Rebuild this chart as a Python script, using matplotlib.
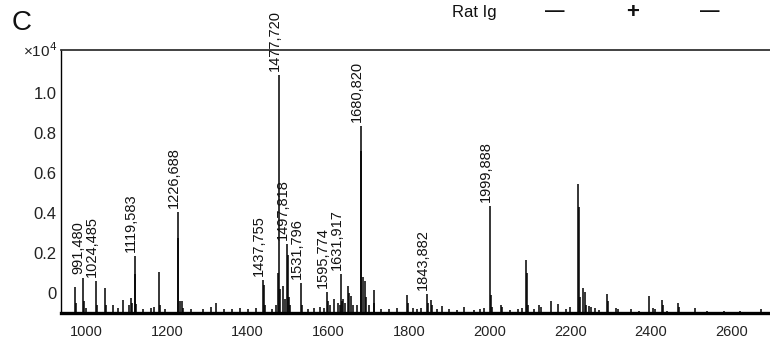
import matplotlib
matplotlib.use('Agg')
import matplotlib.pyplot as plt

plt.rcParams['font.family'] = ['Liberation Sans', 'DejaVu Sans']

# Peak list: m/z and intensity (x10^4, axis units)
peak_mz = [972, 975, 991.48, 994, 1000, 1024.485, 1027, 1045, 1048, 1065, 1078,
           1090, 1105, 1110, 1113, 1119.583, 1121, 1124, 1140, 1160, 1168, 1180, 1182, 1195,
           1226.688, 1228, 1231, 1236, 1240, 1260, 1290, 1310, 1322, 1340, 1360, 1380, 1400, 1420,
           1437.755, 1440, 1443, 1460, 1470, 1476, 1477.72, 1479, 1488, 1493, 1497.818, 1499, 1502, 1505,
           1531.796, 1534, 1550, 1565, 1580, 1590, 1595.774, 1598, 1605, 1615, 1625, 1628,
           1631.917, 1634, 1637, 1642, 1648, 1651, 1657, 1662, 1670,
           1680.82, 1682, 1686, 1690, 1693, 1700, 1712, 1714, 1730, 1750, 1770,
           1795, 1797, 1810, 1820, 1830, 1843.882, 1846, 1855, 1858, 1870, 1882, 1900, 1920, 1937,
           1960, 1975, 1985, 1999.888, 2002, 2005, 2027, 2030, 2050, 2070, 2080,
           2090, 2092, 2095, 2110, 2122, 2126, 2152, 2170, 2190, 2200,
           2220, 2222, 2224, 2232, 2236, 2240, 2245, 2252, 2260, 2270,
           2290, 2293, 2312, 2318, 2350, 2370, 2395, 2405, 2410, 2427, 2429, 2440,
           2467, 2470, 2510, 2540, 2580, 2620, 2672]
peak_int = [0.03, -0.05, 0.075, -0.04, -0.075, 0.06, -0.06, 0.025, -0.06, -0.06, -0.075,
            -0.035, -0.06, -0.025, -0.05, 0.185, 0.095, -0.055, -0.08, -0.075, -0.07, 0.105, -0.06, -0.08,
            0.405, 0.275, -0.04, -0.04, -0.075, -0.08, -0.08, -0.07, -0.05, -0.08, -0.08, -0.075, -0.08, -0.075,
            0.065, 0.04, -0.06, -0.08, -0.06, 0.10, 1.09, 0.02, 0.035, -0.03, 0.245, 0.19, -0.02, -0.06,
            0.05, -0.06, -0.08, -0.075, -0.07, -0.075, 0.005, -0.04, -0.06, -0.03, -0.05, -0.06,
            0.095, -0.04, -0.03, -0.05, 0.035, 0.0, -0.015, -0.06, -0.06,
            0.835, 0.71, 0.08, 0.06, -0.02, -0.06, 0.015, -0.05, -0.08, -0.08, -0.075,
            -0.01, -0.05, -0.075, -0.08, -0.075, -0.005, -0.05, -0.035, -0.06, -0.08, -0.065, -0.08, -0.085, -0.07,
            -0.085, -0.08, -0.075, 0.435, -0.01, -0.07, -0.06, -0.07, -0.085, -0.08, -0.075,
            0.165, 0.1, -0.06, -0.08, -0.06, -0.07, -0.04, -0.055, -0.08, -0.07,
            0.545, 0.43, -0.02, 0.025, 0.005, -0.06, -0.065, -0.07, -0.075, -0.085,
            -0.005, -0.04, -0.075, -0.08, -0.08, -0.09, -0.015, -0.075, -0.08, -0.035, -0.06, -0.09,
            -0.05, -0.07, -0.075, -0.09, -0.09, -0.09, -0.08]

label_mz = [991.480, 1024.485, 1119.583, 1226.688, 1437.755, 1477.720, 1497.818,
            1531.796, 1595.774, 1631.917, 1680.820, 1843.882, 1999.888]

x_ticks = [1000, 1200, 1400, 1600, 1800, 2000, 2200, 2400, 2600]
y_ticks = [0, 0.2, 0.4, 0.6, 0.8, 1.0]
y_ticklabels = ['0', '0.2', '0.4', '0.6', '0.8', '1.0']
baseline = -0.0975

fig = plt.figure(figsize=(7.7, 3.45), dpi=100)
ax = fig.add_axes([61 / 770, 1 - 313 / 345, 1 - 61 / 770, (313 - 49.5) / 345])

ax.vlines(peak_mz, baseline, peak_int, color='black', lw=1.1)

# peak labels
for mz in label_mz:
    h = peak_int[peak_mz.index(min(peak_mz, key=lambda m: abs(m - mz)))]
    txt = ('%.3f' % mz).replace('.', ',')
    ax.annotate(txt, xy=(mz, h), xytext=(-3, 3), textcoords='offset points',
                rotation=90, ha='center', va='bottom', fontsize=10.5, color='#111111')

ax.set_xlim(937, 2695)
ax.set_ylim(baseline, 1.2175)
ax.set_xticks(x_ticks)
ax.set_yticks(y_ticks)
ax.set_yticklabels(y_ticklabels)
ax.tick_params(axis='x', length=0, pad=9, labelsize=10.5, colors='#222222')
ax.tick_params(axis='y', length=0, pad=3, labelsize=12, colors='#222222')

ax.spines['right'].set_visible(False)
ax.spines['top'].set_linewidth(1.3)
ax.spines['top'].set_color('#333333')
ax.spines['left'].set_linewidth(1.0)
ax.spines['bottom'].set_linewidth(2.4)

fig.text(57 / 770, 1 - 51 / 345, '×10$^{4}$', ha='right', va='center', fontsize=11, color='#222222')
fig.text(12 / 770, 1 - 23 / 345, 'C', ha='left', va='center', fontsize=20, color='#111111')
fig.text(452 / 770, 1 - 12 / 345, 'Rat Ig', ha='left', va='center', fontsize=12, color='#111111')
for xpix, sym, fs in [(555, '—', 14), (633, '+', 16), (710, '—', 14)]:
    fig.text(xpix / 770, 1 - 12 / 345, sym, ha='center', va='center', fontsize=fs,
             fontweight='bold', color='#111111')

fig.savefig('out.png', dpi=100)
